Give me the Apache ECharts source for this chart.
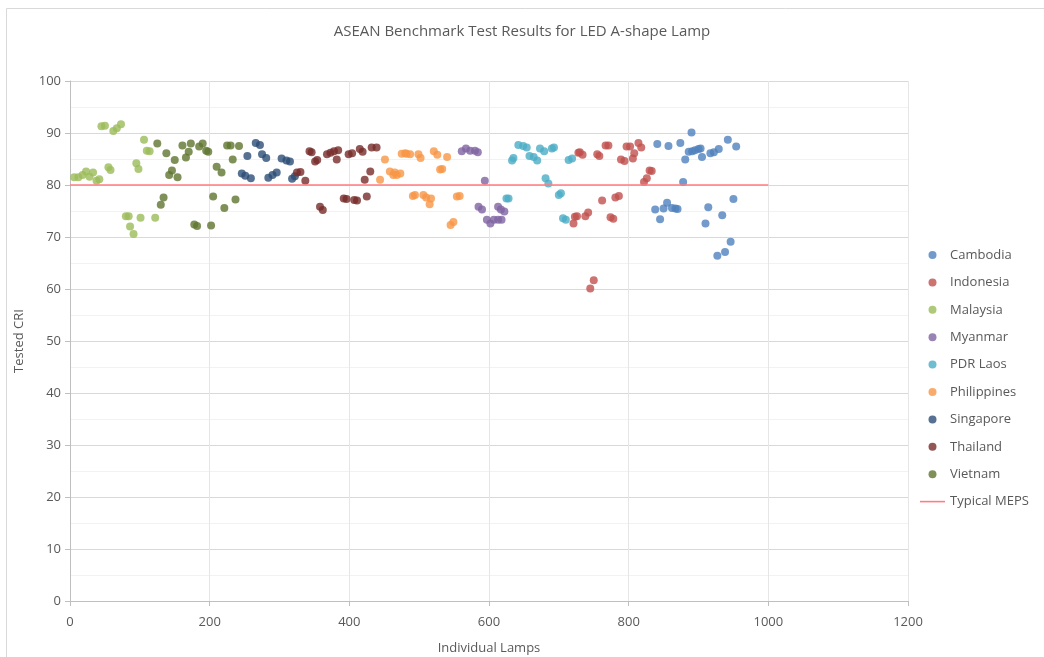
<!DOCTYPE html>
<html>
<head>
<meta charset="utf-8">
<script src="https://cdn.jsdelivr.net/npm/echarts@6/dist/echarts.min.js"></script>
<style>
  html, body { margin: 0; padding: 0; background: #fff; }
  #chart { width: 1044px; height: 657px; }
</style>
</head>
<body>
<div id="chart"></div>
<script>
// [lamp index, tested CRI]
const cambodia = [[838,75.3],[841,87.9],[845,73.4],[850,75.5],[855,76.6],[857,87.5],[862,75.6],[867,75.5],[870,75.4],[874,88.1],[878,80.6],[881,84.9],[886,86.4],[890,90.1],[891,86.5],[895,86.7],[900,86.9],[903,87.0],[905,85.4],[910,72.6],[914,75.7],[917,86.1],[922,86.3],[927,66.4],[929,86.9],[934,74.2],[938,67.1],[942,88.7],[946,69.1],[950,77.3],[954,87.4]];
const indonesia = [[721,72.6],[723,73.9],[726,74.0],[728,86.2],[730,86.3],[734,85.8],[738,74.0],[742,74.7],[745,60.1],[750,61.7],[755,85.9],[758,85.6],[762,77.0],[767,87.6],[771,87.6],[774,73.8],[778,73.5],[781,77.6],[786,77.9],[789,84.9],[794,84.6],[797,87.4],[802,87.4],[806,85.1],[808,86.1],[814,88.1],[818,87.2],[822,80.6],[826,81.3],[830,82.8],[833,82.7]];
const malaysia = [[6,81.5],[12,81.5],[18,81.9],[23,82.6],[28,81.6],[33,82.4],[38,80.8],[42,81.1],[45,91.3],[50,91.4],[55,83.4],[58,82.9],[62,90.4],[67,90.9],[73,91.7],[80,74.0],[84,74.0],[86,72.0],[91,70.6],[95,84.2],[98,83.1],[101,73.7],[106,88.7],[110,86.6],[114,86.5],[122,73.7]];
const myanmar = [[561,86.5],[567,87.0],[573,86.6],[580,86.6],[584,86.3],[585,75.8],[590,75.3],[594,80.8],[597,73.3],[602,72.6],[607,73.3],[613,73.3],[613,75.8],[617,75.3],[618,73.3],[622,74.9]];
const laos = [[625,77.4],[628,77.4],[633,84.7],[635,85.2],[642,87.7],[649,87.5],[654,87.2],[658,85.6],[664,85.4],[669,84.7],[673,87.0],[679,86.5],[681,81.3],[685,80.3],[690,87.0],[693,87.2],[700,78.1],[703,78.4],[706,73.6],[710,73.3],[714,84.8],[719,85.1]];
const philippines = [[444,81.0],[451,84.9],[458,82.6],[463,81.9],[465,82.4],[468,81.9],[473,82.2],[475,86.0],[480,86.1],[482,86.0],[487,85.9],[491,77.9],[494,78.1],[499,85.9],[502,85.2],[506,78.1],[510,77.6],[515,76.3],[517,77.4],[521,86.5],[526,85.8],[530,83.0],[533,83.1],[540,85.4],[545,72.3],[549,72.9],[554,77.8],[558,77.9]];
const singapore = [[246,82.2],[251,81.8],[254,85.6],[259,81.3],[266,88.1],[272,87.7],[275,85.9],[281,85.2],[284,81.4],[290,81.9],[296,82.4],[303,85.1],[310,84.7],[315,84.5],[318,81.2],[322,81.7]];
const thailand = [[325,82.4],[330,82.5],[337,80.8],[343,86.5],[346,86.3],[351,84.5],[354,84.8],[358,75.8],[362,75.2],[368,85.9],[373,86.2],[378,86.5],[382,84.9],[384,86.7],[392,77.4],[396,77.3],[399,85.9],[404,86.1],[407,77.1],[411,77.0],[415,86.9],[419,86.4],[422,81.0],[425,77.8],[430,82.6],[432,87.2],[439,87.2]];
const vietnam = [[125,88.0],[130,76.2],[134,77.6],[138,86.1],[142,81.9],[146,82.8],[150,84.8],[154,81.5],[161,87.6],[166,85.3],[170,86.4],[173,88.0],[178,72.4],[182,72.1],[185,87.4],[190,88.0],[195,86.6],[198,86.4],[202,72.2],[205,77.8],[210,83.5],[217,82.4],[221,75.6],[225,87.6],[230,87.6],[233,84.9],[237,77.2],[242,87.5]];
const meps = [[0,80],[1000,80]];

const countries = [
    ['Cambodia', cambodia, '#4F81BD'],
    ['Indonesia', indonesia, '#C0504D'],
    ['Malaysia', malaysia, '#9BBB59'],
    ['Myanmar', myanmar, '#8064A2'],
    ['PDR Laos', laos, '#4BACC6'],
    ['Philippines', philippines, '#F79646'],
    ['Singapore', singapore, '#2C4D75'],
    ['Thailand', thailand, '#772C2A'],
    ['Vietnam', vietnam, '#5F7530']
];

const font = "'Open Sans', 'Noto Sans', sans-serif";
const grey = '#595959';
const mepsColor = '#FF7C80';

const chart = echarts.init(document.getElementById('chart'), null, { renderer: 'canvas' });
chart.setOption({
    animation: false,
    backgroundColor: '#fff',
    textStyle: { fontFamily: font, color: grey },
    title: {
        text: 'ASEAN Benchmark Test Results for LED A-shape Lamp',
        left: 'center', top: 19,
        textStyle: { fontFamily: font, fontSize: 15, fontWeight: 'normal', color: grey }
    },
    graphic: [{
        type: 'rect', left: 4, top: 6, silent: true,
        shape: { width: 1050, height: 660 },
        style: { fill: 'none', stroke: '#D9D9D9', lineWidth: 1 }
    }],
    legend: {
        orient: 'vertical', left: 915, top: 242,
        itemWidth: 25, itemHeight: 8, itemGap: 11.4,
        textStyle: { fontFamily: font, fontSize: 13, color: grey, lineHeight: 16 },
        data: countries.map(c => ({ name: c[0], icon: 'circle' }))
            .concat([{ name: 'Typical MEPS', icon: 'path://M0,0H25V1.6H0Z', itemStyle: { color: mepsColor, borderWidth: 0 } }])
    },
    grid: { left: 70, right: 136, top: 81, bottom: 56, outerBoundsMode: 'none' },
    xAxis: {
        type: 'value', min: 0, max: 1200, interval: 200,
        name: 'Individual Lamps', nameLocation: 'middle', nameGap: 41,
        nameTextStyle: { fontFamily: font, fontSize: 13, color: grey },
        axisLine: { show: true, onZero: false, lineStyle: { color: '#BFBFBF' } },
        axisTick: { show: true, length: 5, lineStyle: { color: '#BFBFBF' } },
        axisLabel: { fontSize: 13, color: grey, margin: 15, formatter: v => String(v) },
        splitLine: { show: true, lineStyle: { color: '#E6E6E6' } }
    },
    yAxis: {
        type: 'value', min: 0, max: 100, interval: 10,
        name: 'Tested CRI', nameLocation: 'middle', nameGap: 44,
        nameTextStyle: { fontFamily: font, fontSize: 13, color: grey },
        axisLine: { show: true, lineStyle: { color: '#BFBFBF' } },
        axisTick: { show: true, length: 5, lineStyle: { color: '#BFBFBF' } },
        axisLabel: { fontSize: 13, color: grey, margin: 9 },
        splitLine: { show: true, lineStyle: { color: '#D9D9D9' } },
        minorTick: { show: false, splitNumber: 2 },
        minorSplitLine: { show: true, lineStyle: { color: '#F2F2F2' } }
    },
    series: countries.map(([name, data, color]) => ({
        name, type: 'scatter', data,
        symbol: 'circle', symbolSize: 8,
        itemStyle: { color }
    })).concat([{
        name: 'Typical MEPS', type: 'line', data: meps,
        symbol: 'none',
        lineStyle: { color: mepsColor, width: 1.5 },
        itemStyle: { color: mepsColor }
    }])
});
</script>
</body>
</html>
